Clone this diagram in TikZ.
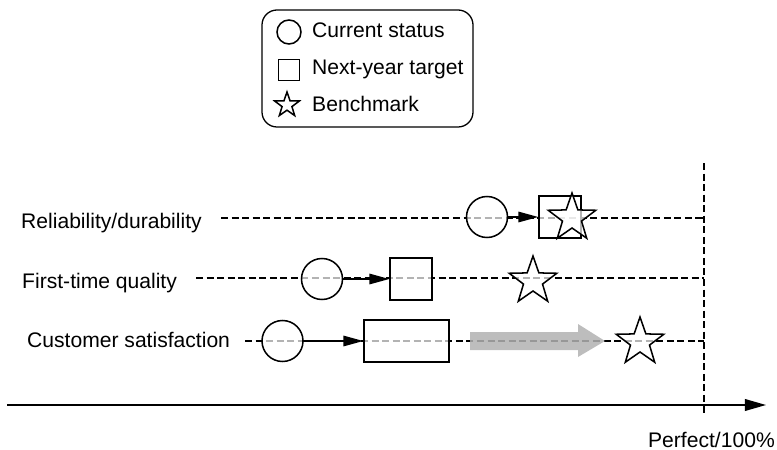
\documentclass[tikz,border=0pt]{standalone}
\usepackage{fontspec}
\setmainfont{Liberation Sans}
\usetikzlibrary{shapes.geometric,arrows.meta,positioning}

\begin{document}
\begin{tikzpicture}[x=0.03cm, y=-0.03cm, font=\fontsize{18}{21}\selectfont,
	every node/.style={inner sep=0pt},
	shp/.style={draw, line width=1.3pt, fill=white, fill opacity=0.7},
	now/.style={shp, circle, minimum size=1.23cm},
	goal/.style={shp, rectangle, minimum size=1.26cm},
	best/.style={shp, star, star points=5, star point ratio=2.5, minimum size=1.5cm},
	lbl/.style={anchor=base west},
	row/.style={line width=0.9pt, dash pattern=on 6pt off 3pt},
	conn/.style={line width=1.3pt, -{Triangle[length=17pt,width=9pt]}}]
	\useasboundingbox (0,0) rectangle (777,450);

	% legend
	\node[draw, line width=1.1pt, rounded corners=0.45cm, minimum width=6.33cm, minimum height=3.51cm] (key) at (367.5,68.5) {};
	\node[now, minimum size=0.72cm] (k1) at (289,32) {};
	\node[goal, minimum size=0.62cm] (k2) at (289,70) {};
	\node[best, minimum size=0.78cm] (k3) at (287,105) {};
	\node[lbl] at (312,38) {Current status};
	\node[lbl] at (312,75) {Next-year target};
	\node[lbl] at (312,112) {Benchmark};

	% perfect line and axis
	\coordinate (top) at (704,163);
	\coordinate (bot) at (704,414);
	\coordinate (a0) at (7,405);
	\coordinate (a1) at (766,405);
	\draw[row] (top) -- (bot);
	\draw[line width=1.3pt, -{Triangle[length=18pt,width=10pt]}] (a0) -- (a1);
	\node[anchor=base east] (pf) at (775,447) {Perfect/100\%};

	% labels
	\node[lbl] (l1) at (21,228) {Reliability/durability};
	\node[lbl] (l2) at (22,288) {First-time quality};
	\node[lbl] (l3) at (27,347) {Customer satisfaction};
	\coordinate (s1) at (221,218);
	\coordinate (s2) at (196,278);
	\coordinate (s3) at (245,341);
	\draw[row] (s1) -- (s1 -| top);
	\draw[row] (s2) -- (s2 -| top);
	\draw[row] (s3) -- (s3 -| top);

	% gray gap arrow
	\fill[black!30, opacity=0.85] (470,332) -- (578,332) -- (578,324) -- (605,341)
		-- (578,357) -- (578,350) -- (470,350) -- cycle;

	% markers
	\node[now] (c1) at (487,217) {};
	\node[goal] (t1) at (560,217) {};
	\node[best] (b1) at (572,218) {};
	\node[now] (c2) at (322,279) {};
	\node[goal] (t2) at (411,279) {};
	\node[best] (b2) at (533,281) {};
	\node[now] (c3) at (282.5,341) {};
	\node[goal, minimum width=2.55cm] (t3) at (406.5,341) {};
	\node[best] (b3) at (640,342) {};

	\path[conn]
		(c1) edge (t1)
		(c2) edge (t2)
		(c3) edge (t3);
\end{tikzpicture}
\end{document}
